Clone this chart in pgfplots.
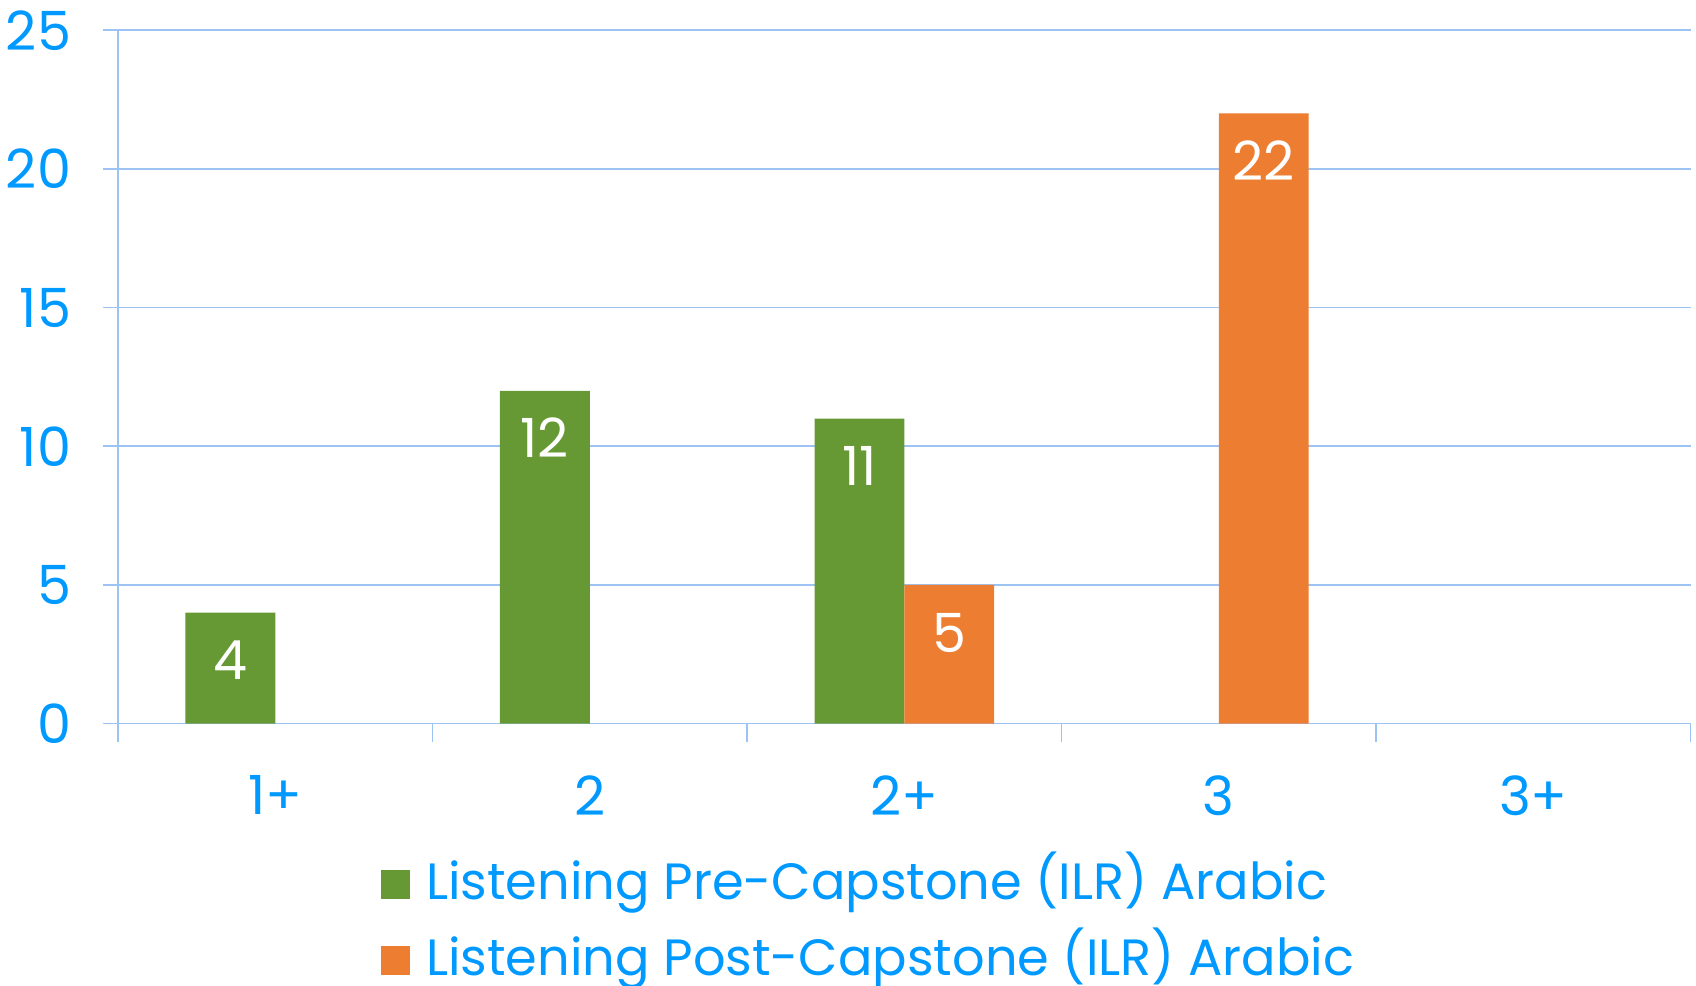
\documentclass[border=0pt]{standalone}
\usepackage{fontspec}
\setmainfont{Poppins}
\usepackage{pgfplots}
\pgfplotsset{compat=1.18}
\definecolor{txt}{HTML}{0099FF}
\definecolor{gridc}{HTML}{9DC3F5}
\definecolor{pre}{HTML}{669933}
\definecolor{post}{HTML}{ED7D31}
\begin{document}
\begin{tikzpicture}[font=\fontsize{27}{32}\selectfont]
\path[use as bounding box] (0,0) rectangle (848pt,492.5pt);
\begin{axis}[at={(59pt,130.7pt)},anchor=south west,scale only axis,width=786.3pt,height=346.7pt,
 xmin=-0.5,xmax=4.5,ymin=0,ymax=25,
 axis x line*=bottom,axis y line*=left,axis line style={gridc,line width=0.8pt,-},
 xtick={0,...,4},xticklabels={1+,2,2+,3,3+},minor xtick={-0.5,0.5,...,4.5},
 ytick={0,5,...,25},ymajorgrids,grid style={gridc,line width=0.8pt},
 tick align=outside,major tick length=7.6pt,minor tick length=9.2pt,
 major x tick style={draw=none},tick style={gridc,line width=0.8pt},
 tick label style={txt,font=\fontsize{27}{32}\selectfont},
 xticklabel style={yshift=-15pt},
 yticklabel style={xshift=-12.4pt},
 /pgf/number format/assume math mode=true,
 ybar,bar width=44.9pt,
 nodes near coords,
 every node near coord/.append style={white,anchor=center,yshift=-23.8pt,inner sep=0pt,text height=19.5pt,text depth=0pt,font=\fontsize{27}{32}\selectfont},
 legend image code/.code={\fill[#1] (0pt,-6.5pt) rectangle (14.5pt,8pt);},
 legend style={at={(axis description cs:0.1671,-0.2885)},anchor=west,draw=none,fill=none,inner sep=0pt,
   row sep=12pt,text=txt,font=\fontsize{25.5}{30}\selectfont,
   nodes={inner sep=0pt,text height=20pt,text depth=6pt}},
 legend cell align=left,
]
\addplot[fill=pre,draw=none,bar shift=-22.45pt] coordinates {(0,4) (1,12) (2,11)};
\addlegendentry{\hspace{8pt}Listening Pre-Capstone (ILR) Arabic}
\addplot[fill=post,draw=none,bar shift=22.45pt] coordinates {(2,5) (3,22)};
\addlegendentry{\hspace{8pt}Listening Post-Capstone (ILR) Arabic}
\end{axis}
\end{tikzpicture}
\end{document}
